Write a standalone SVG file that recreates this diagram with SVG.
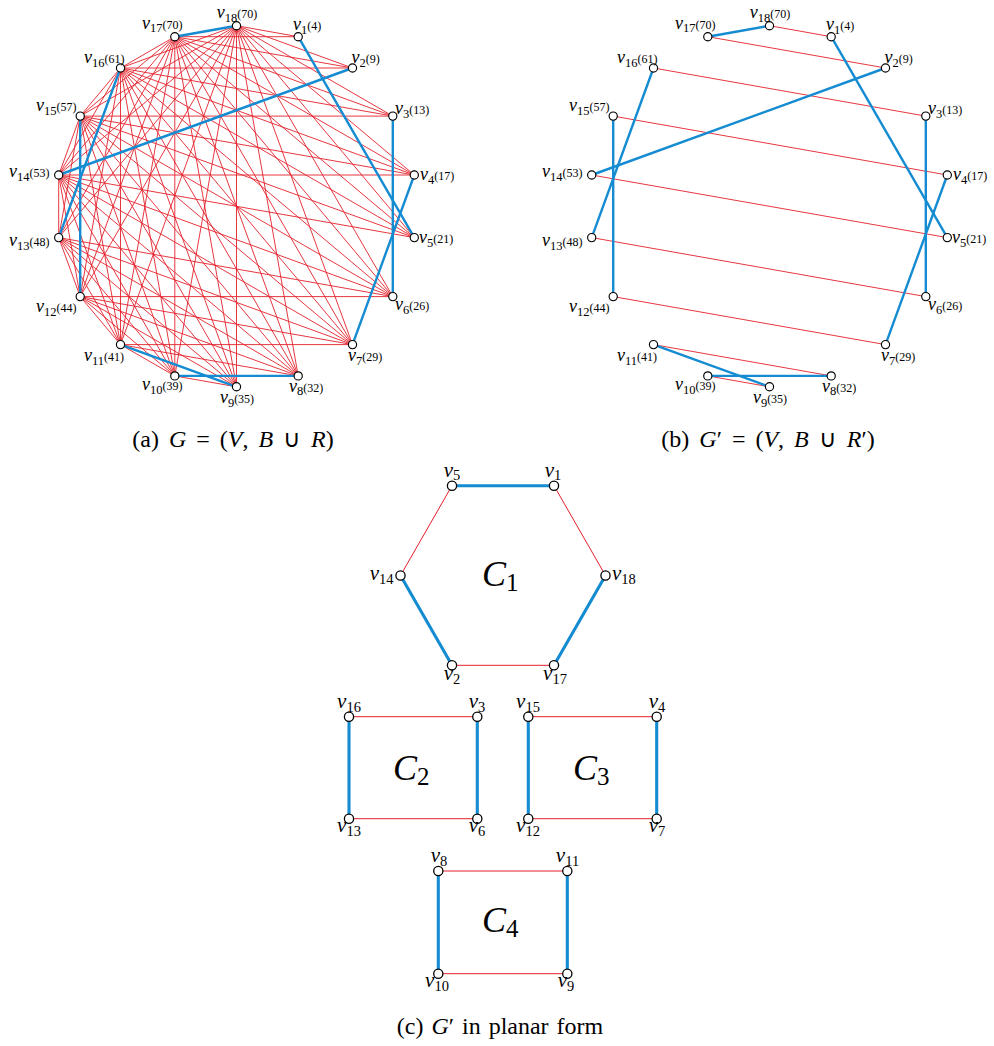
<svg xmlns="http://www.w3.org/2000/svg" width="994" height="1046" viewBox="0 0 994 1046">
<style>
.r{stroke:#e4202a;stroke-width:0.9;fill:none}
.b{stroke:#158cd2;stroke-width:2.4;stroke-linecap:round;fill:none}
.rc{stroke:#e4202a;stroke-width:1;fill:none}
.bc{stroke:#158cd2;stroke-width:3.1;stroke-linecap:round;fill:none}
.n{fill:#fff;stroke:#000;stroke-width:1.15}
.nc{fill:#fff;stroke:#000;stroke-width:1.3}
text{font-family:"Liberation Serif","Times New Roman",serif;fill:#000}
.lab{font-size:18px}
.lc{font-size:21px}
.it{font-style:italic}
.s{font-size:12.5px}
.w{font-size:12px}
.sc{font-size:14.5px}
.cap{font-size:24px;word-spacing:4px}
.cl{font-size:36px}
.cls{font-size:25px}
</style>
<!-- connectors -->
<g id="connectors">
<g id="edges-a-red" class="r">
<path d="M298.2 36.7L174.8 36.7"/><path d="M298.2 36.7L236.5 25.7"/>
<path d="M352.5 68L120.5 68"/><path d="M352.5 68L174.8 36.7"/><path d="M352.5 68L236.5 25.7"/>
<path d="M392.8 116.1L80.2 116.1"/><path d="M392.8 116.1L120.5 68"/><path d="M392.8 116.1L174.8 36.7"/><path d="M392.8 116.1L236.5 25.7"/>
<path d="M414.3 175L58.7 175"/><path d="M414.3 175L80.2 116.1"/><path d="M414.3 175L120.5 68"/><path d="M414.3 175L174.8 36.7"/><path d="M414.3 175L236.5 25.7"/>
<path d="M414.3 237.6L58.7 175"/><path d="M414.3 237.6L80.2 116.1"/><path d="M414.3 237.6L120.5 68"/><path d="M414.3 237.6L174.8 36.7"/><path d="M414.3 237.6L236.5 25.7"/>
<path d="M392.8 296.6L80.2 296.6"/><path d="M392.8 296.6L58.7 237.6"/><path d="M392.8 296.6L58.7 175"/><path d="M392.8 296.6L80.2 116.1"/><path d="M392.8 296.6L120.5 68"/><path d="M392.8 296.6L174.8 36.7"/><path d="M392.8 296.6L236.5 25.7"/>
<path d="M352.5 344.6L120.5 344.6"/><path d="M352.5 344.6L80.2 296.6"/><path d="M352.5 344.6L58.7 237.6"/><path d="M352.5 344.6L58.7 175"/><path d="M352.5 344.6L80.2 116.1"/><path d="M352.5 344.6L120.5 68"/><path d="M352.5 344.6L174.8 36.7"/><path d="M352.5 344.6L236.5 25.7"/>
<path d="M298.2 375.9L174.8 375.9"/><path d="M298.2 375.9L120.5 344.6"/><path d="M298.2 375.9L80.2 296.6"/><path d="M298.2 375.9L58.7 237.6"/><path d="M298.2 375.9L58.7 175"/><path d="M298.2 375.9L80.2 116.1"/><path d="M298.2 375.9L120.5 68"/><path d="M298.2 375.9L174.8 36.7"/><path d="M298.2 375.9L236.5 25.7"/>
<path d="M236.5 386.8L174.8 375.9"/><path d="M236.5 386.8L120.5 344.6"/><path d="M236.5 386.8L80.2 296.6"/><path d="M236.5 386.8L58.7 237.6"/><path d="M236.5 386.8L58.7 175"/><path d="M236.5 386.8L80.2 116.1"/><path d="M236.5 386.8L120.5 68"/><path d="M236.5 386.8L174.8 36.7"/><path d="M236.5 386.8L236.5 25.7"/>
<path d="M174.8 375.9L120.5 344.6"/><path d="M174.8 375.9L80.2 296.6"/><path d="M174.8 375.9L58.7 237.6"/><path d="M174.8 375.9L58.7 175"/><path d="M174.8 375.9L80.2 116.1"/><path d="M174.8 375.9L120.5 68"/><path d="M174.8 375.9L174.8 36.7"/><path d="M174.8 375.9L236.5 25.7"/>
<path d="M120.5 344.6L80.2 296.6"/><path d="M120.5 344.6L58.7 237.6"/><path d="M120.5 344.6L58.7 175"/><path d="M120.5 344.6L80.2 116.1"/><path d="M120.5 344.6L120.5 68"/><path d="M120.5 344.6L174.8 36.7"/><path d="M120.5 344.6L236.5 25.7"/>
<path d="M80.2 296.6L58.7 237.6"/><path d="M80.2 296.6L58.7 175"/><path d="M80.2 296.6L80.2 116.1"/><path d="M80.2 296.6L120.5 68"/><path d="M80.2 296.6L174.8 36.7"/><path d="M80.2 296.6L236.5 25.7"/>
<path d="M58.7 237.6L58.7 175"/><path d="M58.7 237.6L80.2 116.1"/><path d="M58.7 237.6L120.5 68"/><path d="M58.7 237.6L174.8 36.7"/><path d="M58.7 237.6L236.5 25.7"/>
<path d="M58.7 175L80.2 116.1"/><path d="M58.7 175L120.5 68"/><path d="M58.7 175L174.8 36.7"/><path d="M58.7 175L236.5 25.7"/>
<path d="M80.2 116.1L120.5 68"/><path d="M80.2 116.1L174.8 36.7"/><path d="M80.2 116.1L236.5 25.7"/>
<path d="M120.5 68L174.8 36.7"/><path d="M120.5 68L236.5 25.7"/>
<path d="M174.8 36.7L236.5 25.7"/>
</g>
<g id="edges-a-blue" class="b">
<path d="M174.8 36.7L236.5 25.7"/><path d="M298.2 36.7L414.3 237.6"/><path d="M352.5 68L58.7 175"/><path d="M392.8 116.1L392.8 296.6"/><path d="M414.3 175L352.5 344.6"/><path d="M120.5 68L58.7 237.6"/><path d="M80.2 116.1L80.2 296.6"/><path d="M120.5 344.6L236.5 386.8"/><path d="M174.8 375.9L298.2 375.9"/>
</g>
<g id="edges-b-red" class="r">
<path d="M769.5 25.7L831.2 36.7"/><path d="M707.8 36.7L885.5 68"/><path d="M653.5 68L925.8 116.1"/><path d="M613.2 116.1L947.3 175"/><path d="M591.7 175L947.3 237.6"/><path d="M591.7 237.6L925.8 296.6"/><path d="M613.2 296.6L885.5 344.6"/><path d="M653.5 344.6L831.2 375.9"/><path d="M707.8 375.9L769.5 386.8"/>
</g>
<g id="edges-b-blue" class="b">
<path d="M707.8 36.7L769.5 25.7"/><path d="M831.2 36.7L947.3 237.6"/><path d="M885.5 68L591.7 175"/><path d="M925.8 116.1L925.8 296.6"/><path d="M947.3 175L885.5 344.6"/><path d="M653.5 68L591.7 237.6"/><path d="M613.2 116.1L613.2 296.6"/><path d="M653.5 344.6L769.5 386.8"/><path d="M707.8 375.9L831.2 375.9"/>
</g>
<g id="edges-c-red" class="rc">
<path d="M554 485.7L605.5 575.5"/><path d="M554 665.3L452 665.3"/><path d="M400.5 575.5L452 485.7"/>
<path d="M349 716.7L477.3 716.7"/><path d="M349 818.7L477.3 818.7"/>
<path d="M528.3 716.7L656.7 716.7"/><path d="M528.3 818.7L656.7 818.7"/>
<path d="M438.3 871L567.3 871"/><path d="M438.3 973.7L567.3 973.7"/>
</g>
<g id="edges-c-blue" class="bc">
<path d="M452 485.7L554 485.7"/><path d="M605.5 575.5L554 665.3"/><path d="M452 665.3L400.5 575.5"/>
<path d="M349 716.7L349 818.7"/><path d="M477.3 716.7L477.3 818.7"/>
<path d="M528.3 716.7L528.3 818.7"/><path d="M656.7 716.7L656.7 818.7"/>
<path d="M438.3 871L438.3 973.7"/><path d="M567.3 871L567.3 973.7"/>
</g>
</g>
<!-- graph (a) nodes -->
<g id="a-v1"><circle class="n" cx="298.2" cy="36.7" r="4.1"/><text class="lab" x="293" y="30"><tspan class="it">v</tspan><tspan class="s" dy="3.5">1</tspan><tspan class="w" dy="-3.5">(4)</tspan></text></g>
<g id="a-v2"><circle class="n" cx="352.5" cy="68" r="4.1"/><text class="lab" x="351.5" y="63"><tspan class="it">v</tspan><tspan class="s" dy="3.5">2</tspan><tspan class="w" dy="-3.5">(9)</tspan></text></g>
<g id="a-v3"><circle class="n" cx="392.8" cy="116.1" r="4.1"/><text class="lab" x="395" y="114"><tspan class="it">v</tspan><tspan class="s" dy="3.5">3</tspan><tspan class="w" dy="-3.5">(13)</tspan></text></g>
<g id="a-v4"><circle class="n" cx="414.3" cy="175" r="4.1"/><text class="lab" x="420" y="180"><tspan class="it">v</tspan><tspan class="s" dy="3.5">4</tspan><tspan class="w" dy="-3.5">(17)</tspan></text></g>
<g id="a-v5"><circle class="n" cx="414.3" cy="237.6" r="4.1"/><text class="lab" x="419" y="243"><tspan class="it">v</tspan><tspan class="s" dy="3.5">5</tspan><tspan class="w" dy="-3.5">(21)</tspan></text></g>
<g id="a-v6"><circle class="n" cx="392.8" cy="296.6" r="4.1"/><text class="lab" x="395" y="310"><tspan class="it">v</tspan><tspan class="s" dy="3.5">6</tspan><tspan class="w" dy="-3.5">(26)</tspan></text></g>
<g id="a-v7"><circle class="n" cx="352.5" cy="344.6" r="4.1"/><text class="lab" x="348" y="361"><tspan class="it">v</tspan><tspan class="s" dy="3.5">7</tspan><tspan class="w" dy="-3.5">(29)</tspan></text></g>
<g id="a-v8"><circle class="n" cx="298.2" cy="375.9" r="4.1"/><text class="lab" x="289" y="391.5"><tspan class="it">v</tspan><tspan class="s" dy="3.5">8</tspan><tspan class="w" dy="-3.5">(32)</tspan></text></g>
<g id="a-v9"><circle class="n" cx="236.5" cy="386.8" r="4.1"/><text class="lab" x="237" y="403" text-anchor="middle"><tspan class="it">v</tspan><tspan class="s" dy="3.5">9</tspan><tspan class="w" dy="-3.5">(35)</tspan></text></g>
<g id="a-v10"><circle class="n" cx="174.8" cy="375.9" r="4.1"/><text class="lab" x="142" y="390"><tspan class="it">v</tspan><tspan class="s" dy="3.5">10</tspan><tspan class="w" dy="-3.5">(39)</tspan></text></g>
<g id="a-v11"><circle class="n" cx="120.5" cy="344.6" r="4.1"/><text class="lab" x="84" y="361"><tspan class="it">v</tspan><tspan class="s" dy="3.5">11</tspan><tspan class="w" dy="-3.5">(41)</tspan></text></g>
<g id="a-v12"><circle class="n" cx="80.2" cy="296.6" r="4.1"/><text class="lab" x="36" y="312"><tspan class="it">v</tspan><tspan class="s" dy="3.5">12</tspan><tspan class="w" dy="-3.5">(44)</tspan></text></g>
<g id="a-v13"><circle class="n" cx="58.7" cy="237.6" r="4.1"/><text class="lab" x="9" y="246"><tspan class="it">v</tspan><tspan class="s" dy="3.5">13</tspan><tspan class="w" dy="-3.5">(48)</tspan></text></g>
<g id="a-v14"><circle class="n" cx="58.7" cy="175" r="4.1"/><text class="lab" x="9" y="177"><tspan class="it">v</tspan><tspan class="s" dy="3.5">14</tspan><tspan class="w" dy="-3.5">(53)</tspan></text></g>
<g id="a-v15"><circle class="n" cx="80.2" cy="116.1" r="4.1"/><text class="lab" x="36" y="111"><tspan class="it">v</tspan><tspan class="s" dy="3.5">15</tspan><tspan class="w" dy="-3.5">(57)</tspan></text></g>
<g id="a-v16"><circle class="n" cx="120.5" cy="68" r="4.1"/><text class="lab" x="84" y="63"><tspan class="it">v</tspan><tspan class="s" dy="3.5">16</tspan><tspan class="w" dy="-3.5">(61)</tspan></text></g>
<g id="a-v17"><circle class="n" cx="174.8" cy="36.7" r="4.1"/><text class="lab" x="142" y="28.5"><tspan class="it">v</tspan><tspan class="s" dy="3.5">17</tspan><tspan class="w" dy="-3.5">(70)</tspan></text></g>
<g id="a-v18"><circle class="n" cx="236.5" cy="25.7" r="4.1"/><text class="lab" x="237" y="18" text-anchor="middle"><tspan class="it">v</tspan><tspan class="s" dy="3.5">18</tspan><tspan class="w" dy="-3.5">(70)</tspan></text></g>
<!-- graph (b) nodes -->
<g id="b-v1"><circle class="n" cx="831.2" cy="36.7" r="4.1"/><text class="lab" x="826" y="30"><tspan class="it">v</tspan><tspan class="s" dy="3.5">1</tspan><tspan class="w" dy="-3.5">(4)</tspan></text></g>
<g id="b-v2"><circle class="n" cx="885.5" cy="68" r="4.1"/><text class="lab" x="884.5" y="63"><tspan class="it">v</tspan><tspan class="s" dy="3.5">2</tspan><tspan class="w" dy="-3.5">(9)</tspan></text></g>
<g id="b-v3"><circle class="n" cx="925.8" cy="116.1" r="4.1"/><text class="lab" x="928" y="114"><tspan class="it">v</tspan><tspan class="s" dy="3.5">3</tspan><tspan class="w" dy="-3.5">(13)</tspan></text></g>
<g id="b-v4"><circle class="n" cx="947.3" cy="175" r="4.1"/><text class="lab" x="953" y="180"><tspan class="it">v</tspan><tspan class="s" dy="3.5">4</tspan><tspan class="w" dy="-3.5">(17)</tspan></text></g>
<g id="b-v5"><circle class="n" cx="947.3" cy="237.6" r="4.1"/><text class="lab" x="952" y="243"><tspan class="it">v</tspan><tspan class="s" dy="3.5">5</tspan><tspan class="w" dy="-3.5">(21)</tspan></text></g>
<g id="b-v6"><circle class="n" cx="925.8" cy="296.6" r="4.1"/><text class="lab" x="928" y="310"><tspan class="it">v</tspan><tspan class="s" dy="3.5">6</tspan><tspan class="w" dy="-3.5">(26)</tspan></text></g>
<g id="b-v7"><circle class="n" cx="885.5" cy="344.6" r="4.1"/><text class="lab" x="881" y="361"><tspan class="it">v</tspan><tspan class="s" dy="3.5">7</tspan><tspan class="w" dy="-3.5">(29)</tspan></text></g>
<g id="b-v8"><circle class="n" cx="831.2" cy="375.9" r="4.1"/><text class="lab" x="822" y="391.5"><tspan class="it">v</tspan><tspan class="s" dy="3.5">8</tspan><tspan class="w" dy="-3.5">(32)</tspan></text></g>
<g id="b-v9"><circle class="n" cx="769.5" cy="386.8" r="4.1"/><text class="lab" x="770" y="403" text-anchor="middle"><tspan class="it">v</tspan><tspan class="s" dy="3.5">9</tspan><tspan class="w" dy="-3.5">(35)</tspan></text></g>
<g id="b-v10"><circle class="n" cx="707.8" cy="375.9" r="4.1"/><text class="lab" x="675" y="390"><tspan class="it">v</tspan><tspan class="s" dy="3.5">10</tspan><tspan class="w" dy="-3.5">(39)</tspan></text></g>
<g id="b-v11"><circle class="n" cx="653.5" cy="344.6" r="4.1"/><text class="lab" x="617" y="361"><tspan class="it">v</tspan><tspan class="s" dy="3.5">11</tspan><tspan class="w" dy="-3.5">(41)</tspan></text></g>
<g id="b-v12"><circle class="n" cx="613.2" cy="296.6" r="4.1"/><text class="lab" x="569" y="312"><tspan class="it">v</tspan><tspan class="s" dy="3.5">12</tspan><tspan class="w" dy="-3.5">(44)</tspan></text></g>
<g id="b-v13"><circle class="n" cx="591.7" cy="237.6" r="4.1"/><text class="lab" x="542" y="246"><tspan class="it">v</tspan><tspan class="s" dy="3.5">13</tspan><tspan class="w" dy="-3.5">(48)</tspan></text></g>
<g id="b-v14"><circle class="n" cx="591.7" cy="175" r="4.1"/><text class="lab" x="542" y="177"><tspan class="it">v</tspan><tspan class="s" dy="3.5">14</tspan><tspan class="w" dy="-3.5">(53)</tspan></text></g>
<g id="b-v15"><circle class="n" cx="613.2" cy="116.1" r="4.1"/><text class="lab" x="569" y="111"><tspan class="it">v</tspan><tspan class="s" dy="3.5">15</tspan><tspan class="w" dy="-3.5">(57)</tspan></text></g>
<g id="b-v16"><circle class="n" cx="653.5" cy="68" r="4.1"/><text class="lab" x="617" y="63"><tspan class="it">v</tspan><tspan class="s" dy="3.5">16</tspan><tspan class="w" dy="-3.5">(61)</tspan></text></g>
<g id="b-v17"><circle class="n" cx="707.8" cy="36.7" r="4.1"/><text class="lab" x="675" y="28.5"><tspan class="it">v</tspan><tspan class="s" dy="3.5">17</tspan><tspan class="w" dy="-3.5">(70)</tspan></text></g>
<g id="b-v18"><circle class="n" cx="769.5" cy="25.7" r="4.1"/><text class="lab" x="770" y="18" text-anchor="middle"><tspan class="it">v</tspan><tspan class="s" dy="3.5">18</tspan><tspan class="w" dy="-3.5">(70)</tspan></text></g>
<!-- graph (c) nodes -->
<g id="c-v5"><circle class="nc" cx="452" cy="485.7" r="4.6"/><text class="lc" x="452" y="476.5" text-anchor="middle"><tspan class="it">v</tspan><tspan class="sc" dy="3.5">5</tspan></text></g>
<g id="c-v1"><circle class="nc" cx="554" cy="485.7" r="4.6"/><text class="lc" x="553" y="476.5" text-anchor="middle"><tspan class="it">v</tspan><tspan class="sc" dy="3.5">1</tspan></text></g>
<g id="c-v18"><circle class="nc" cx="605.5" cy="575.5" r="4.6"/><text class="lc" x="612" y="580"><tspan class="it">v</tspan><tspan class="sc" dy="3.5">18</tspan></text></g>
<g id="c-v17"><circle class="nc" cx="554" cy="665.3" r="4.6"/><text class="lc" x="555" y="680" text-anchor="middle"><tspan class="it">v</tspan><tspan class="sc" dy="3.5">17</tspan></text></g>
<g id="c-v2"><circle class="nc" cx="452" cy="665.3" r="4.6"/><text class="lc" x="452" y="680" text-anchor="middle"><tspan class="it">v</tspan><tspan class="sc" dy="3.5">2</tspan></text></g>
<g id="c-v14"><circle class="nc" cx="400.5" cy="575.5" r="4.6"/><text class="lc" x="393.5" y="580" text-anchor="end"><tspan class="it">v</tspan><tspan class="sc" dy="3.5">14</tspan></text></g>
<g id="c-v16"><circle class="nc" cx="349" cy="716.7" r="4.6"/><text class="lc" x="349" y="708" text-anchor="middle"><tspan class="it">v</tspan><tspan class="sc" dy="3.5">16</tspan></text></g>
<g id="c-v3"><circle class="nc" cx="477.3" cy="716.7" r="4.6"/><text class="lc" x="477" y="708" text-anchor="middle"><tspan class="it">v</tspan><tspan class="sc" dy="3.5">3</tspan></text></g>
<g id="c-v13"><circle class="nc" cx="349" cy="818.7" r="4.6"/><text class="lc" x="349" y="832" text-anchor="middle"><tspan class="it">v</tspan><tspan class="sc" dy="3.5">13</tspan></text></g>
<g id="c-v6"><circle class="nc" cx="477.3" cy="818.7" r="4.6"/><text class="lc" x="477" y="832" text-anchor="middle"><tspan class="it">v</tspan><tspan class="sc" dy="3.5">6</tspan></text></g>
<g id="c-v15"><circle class="nc" cx="528.3" cy="716.7" r="4.6"/><text class="lc" x="528" y="708" text-anchor="middle"><tspan class="it">v</tspan><tspan class="sc" dy="3.5">15</tspan></text></g>
<g id="c-v4"><circle class="nc" cx="656.7" cy="716.7" r="4.6"/><text class="lc" x="657" y="708" text-anchor="middle"><tspan class="it">v</tspan><tspan class="sc" dy="3.5">4</tspan></text></g>
<g id="c-v12"><circle class="nc" cx="528.3" cy="818.7" r="4.6"/><text class="lc" x="528" y="832" text-anchor="middle"><tspan class="it">v</tspan><tspan class="sc" dy="3.5">12</tspan></text></g>
<g id="c-v7"><circle class="nc" cx="656.7" cy="818.7" r="4.6"/><text class="lc" x="657" y="832" text-anchor="middle"><tspan class="it">v</tspan><tspan class="sc" dy="3.5">7</tspan></text></g>
<g id="c-v8"><circle class="nc" cx="438.3" cy="871" r="4.6"/><text class="lc" x="439" y="862" text-anchor="middle"><tspan class="it">v</tspan><tspan class="sc" dy="3.5">8</tspan></text></g>
<g id="c-v11"><circle class="nc" cx="567.3" cy="871" r="4.6"/><text class="lc" x="567.5" y="862" text-anchor="middle"><tspan class="it">v</tspan><tspan class="sc" dy="3.5">11</tspan></text></g>
<g id="c-v10"><circle class="nc" cx="438.3" cy="973.7" r="4.6"/><text class="lc" x="437" y="987" text-anchor="middle"><tspan class="it">v</tspan><tspan class="sc" dy="3.5">10</tspan></text></g>
<g id="c-v9"><circle class="nc" cx="567.3" cy="973.7" r="4.6"/><text class="lc" x="566" y="987" text-anchor="middle"><tspan class="it">v</tspan><tspan class="sc" dy="3.5">9</tspan></text></g>
<!-- cycle labels -->
<g id="label-C1"><text class="cl" x="482" y="586"><tspan class="it">C</tspan><tspan class="cls" dy="5">1</tspan></text></g>
<g id="label-C2"><text class="cl" x="393" y="780"><tspan class="it">C</tspan><tspan class="cls" dy="5">2</tspan></text></g>
<g id="label-C3"><text class="cl" x="573" y="780"><tspan class="it">C</tspan><tspan class="cls" dy="5">3</tspan></text></g>
<g id="label-C4"><text class="cl" x="482" y="931.5"><tspan class="it">C</tspan><tspan class="cls" dy="5">4</tspan></text></g>
<!-- captions -->
<g id="captions">
<text class="cap" x="233" y="447" text-anchor="middle">(a) <tspan class="it">G</tspan> = (<tspan class="it">V</tspan>, <tspan class="it">B</tspan> ∪ <tspan class="it">R</tspan>)</text>
<text class="cap" x="768" y="447" text-anchor="middle">(b) <tspan class="it">G</tspan>′ = (<tspan class="it">V</tspan>, <tspan class="it">B</tspan> ∪ <tspan class="it">R</tspan>′)</text>
<text class="cap" x="500" y="1034" text-anchor="middle" style="word-spacing:2px">(c) <tspan class="it">G</tspan>′ in planar form</text>
</g>
</svg>
